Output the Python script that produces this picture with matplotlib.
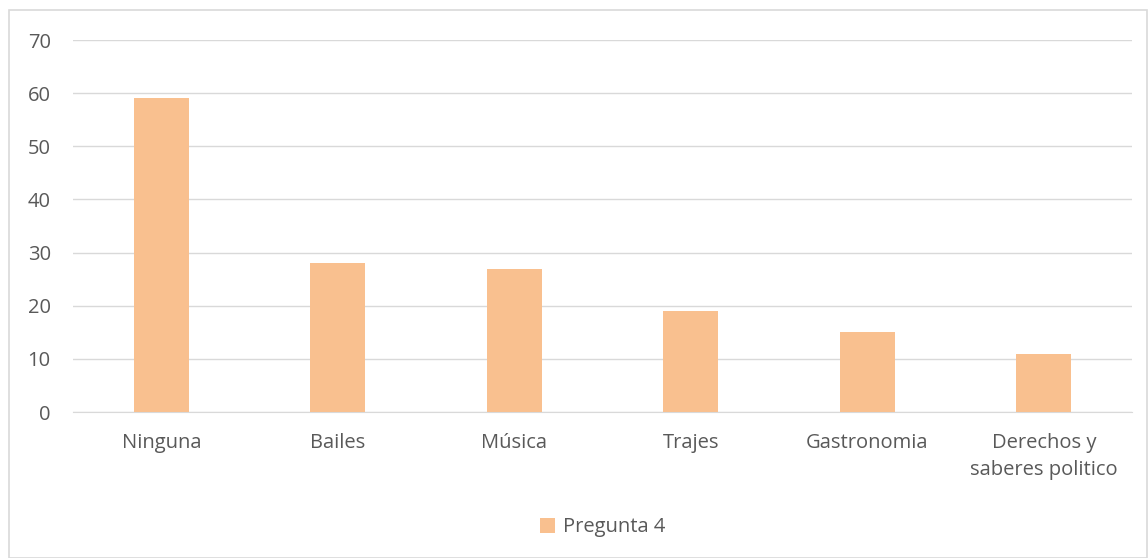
import numpy as np
import matplotlib.pyplot as plt
from matplotlib.patches import Rectangle

# Data
categories = ['Ninguna', 'Bailes', 'Música', 'Trajes', 'Gastronomia', 'Derechos y\nsaberes politico']
values = [59, 28, 27, 19, 15, 11]
series_name = 'Pregunta 4'

bar_color = '#F9C08F'
text_color = '#595959'
grid_color = '#D9D9D9'

plt.rcParams['font.family'] = ['Open Sans', 'DejaVu Sans']

fig = plt.figure(figsize=(11.48, 5.58), dpi=100)
ax = fig.add_axes([73 / 1148, 1 - 412 / 558, 1059 / 1148, 372 / 558])

# outer chart border
fig.patches.append(Rectangle((9 / 1148, 0), 1 - 10 / 1148, 1 - 10 / 558,
                             transform=fig.transFigure, fill=False,
                             edgecolor=grid_color, linewidth=1.2))

x = np.arange(len(categories))
ax.bar(x, values, width=0.31, color=bar_color, label=series_name, zorder=3)

ax.set_xlim(-0.5, len(categories) - 0.5)
ax.set_ylim(0, 70)
ax.set_yticks(range(0, 71, 10))
ax.set_xticks(x)
ax.set_xticklabels(categories, fontsize=14.5, color=text_color, linespacing=1.45)
ax.tick_params(axis='y', labelsize=14.5, labelcolor=text_color, length=0, pad=16)
ax.tick_params(axis='x', length=0, pad=15)

ax.grid(axis='y', color=grid_color, linewidth=1, zorder=0)
for s in ['top', 'right', 'left']:
    ax.spines[s].set_visible(False)
ax.spines['bottom'].set_color(grid_color)

ax.legend(loc='center', bbox_to_anchor=(0.5, -0.31), frameon=False,
          fontsize=14.5, labelcolor=text_color, handlelength=0.75, handleheight=0.75,
          handletextpad=0.4)

fig.savefig('out.png', dpi=100)
